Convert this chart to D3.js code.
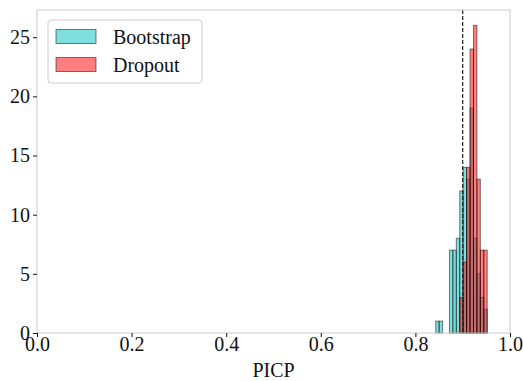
<!DOCTYPE html>
<html>
<head>
<meta charset="utf-8">
<script src="https://cdn.jsdelivr.net/npm/d3@7"></script>
<style>
  html, body { margin: 0; padding: 0; background: #fff; }
  svg { display: block; }
</style>
</head>
<body>
<svg id="chart" width="523" height="381"></svg>
<script>
// ---- data ----
const seriesNames = ["Bootstrap", "Dropout"];
const binLo = 0.843;
const binHi = 0.9518;
const nBins = 15;
const bootstrapCounts = [1, 1, 0, 0, 7, 7, 8, 12, 14, 13, 19, 8, 5, 3, 2];
const dropoutCounts   = [0, 0, 0, 0, 0, 0, 0, 3, 6, 14, 24, 26, 13, 7, 7];
const xTicks = [0.0, 0.2, 0.4, 0.6, 0.8, 1.0];
const yTicks = [0, 5, 10, 15, 20, 25];
const refLine = 0.9;
const xLabel = "PICP";

// ---- layout ----
const FONT = "'Liberation Serif', 'Times New Roman', Times, serif";
const W = 523, H = 381;
const m = { left: 37, right: 13, top: 10, bottom: 48 };
const svg = d3.select("#chart");

const x = d3.scaleLinear().domain([0, 1]).range([m.left, W - m.right]);
const y = d3.scaleLinear().domain([0, 27.3]).range([H - m.bottom, m.top]);

const binW = (binHi - binLo) / nBins;
const edges = d3.range(nBins).map(i => binLo + i * binW);

const colors = {
  Bootstrap: "rgba(0,191,191,0.5)",
  Dropout: "rgba(255,0,0,0.5)"
};

function drawHist(counts, name) {
  const bins = counts.map((c, i) => ({ x0: edges[i], x1: edges[i] + binW, c }))
                     .filter(d => d.c > 0);
  svg.append("g").selectAll("rect").data(bins).join("rect")
    .attr("x", d => x(d.x0))
    .attr("width", d => x(d.x1) - x(d.x0))
    .attr("y", d => y(d.c))
    .attr("height", d => y(0) - y(d.c))
    .attr("fill", colors[name])
    .attr("stroke", "rgba(0,0,0,0.5)")
    .attr("stroke-width", 1);
}

drawHist(bootstrapCounts, "Bootstrap");
drawHist(dropoutCounts, "Dropout");

// reference line
svg.append("line")
  .attr("x1", x(refLine)).attr("x2", x(refLine))
  .attr("y1", y.range()[1]).attr("y2", y.range()[0])
  .attr("stroke", "#222").attr("stroke-width", 1.2)
  .attr("stroke-dasharray", "4,2");

// spines
svg.append("rect")
  .attr("x", m.left).attr("y", m.top)
  .attr("width", W - m.right - m.left).attr("height", H - m.bottom - m.top)
  .attr("fill", "none").attr("stroke", "#cccccc").attr("stroke-width", 1);

// x axis
const xAxis = d3.axisBottom(x).tickValues(xTicks).tickFormat(d3.format(".1f"))
  .tickSize(4).tickPadding(0);
const gx = svg.append("g").attr("transform", `translate(0,${y(0)})`).call(xAxis);
gx.attr("font-family", null).attr("font-size", null);
gx.select(".domain").remove();
gx.selectAll(".tick line").attr("stroke", "#111");
gx.selectAll(".tick text").style("font-family", FONT).style("font-size", "20px").attr("fill", "#111");

// y axis
const yAxis = d3.axisLeft(y).tickValues(yTicks).tickFormat(d3.format("d"))
  .tickSize(4).tickPadding(3);
const gy = svg.append("g").attr("transform", `translate(${x(0)},0)`).call(yAxis);
gy.attr("font-family", null).attr("font-size", null);
gy.select(".domain").remove();
gy.selectAll(".tick line").attr("stroke", "#111");
gy.selectAll(".tick text").style("font-family", FONT).style("font-size", "20px").attr("fill", "#111");

// x label
svg.append("text")
  .attr("x", (x.range()[0] + x.range()[1]) / 2)
  .attr("y", 377)
  .attr("text-anchor", "middle")
  .style("font-family", FONT).style("font-size", "20px")
  .attr("fill", "#111")
  .text(xLabel);

// legend
const lg = svg.append("g");
lg.append("rect")
  .attr("x", 48).attr("y", 20).attr("width", 154).attr("height", 63)
  .attr("rx", 3).attr("ry", 3)
  .attr("fill", "rgba(255,255,255,0.8)").attr("stroke", "#cccccc").attr("stroke-width", 1);
seriesNames.forEach((name, i) => {
  const yy = 29.5 + i * 28;
  lg.append("rect")
    .attr("x", 56).attr("y", yy).attr("width", 40).attr("height", 14)
    .attr("fill", colors[name]).attr("stroke", "rgba(0,0,0,0.5)").attr("stroke-width", 1);
  lg.append("text")
    .attr("x", 113).attr("y", yy + 14)
    .style("font-family", FONT).style("font-size", "20px")
    .attr("fill", "#111")
    .text(name);
});
</script>
</body>
</html>
